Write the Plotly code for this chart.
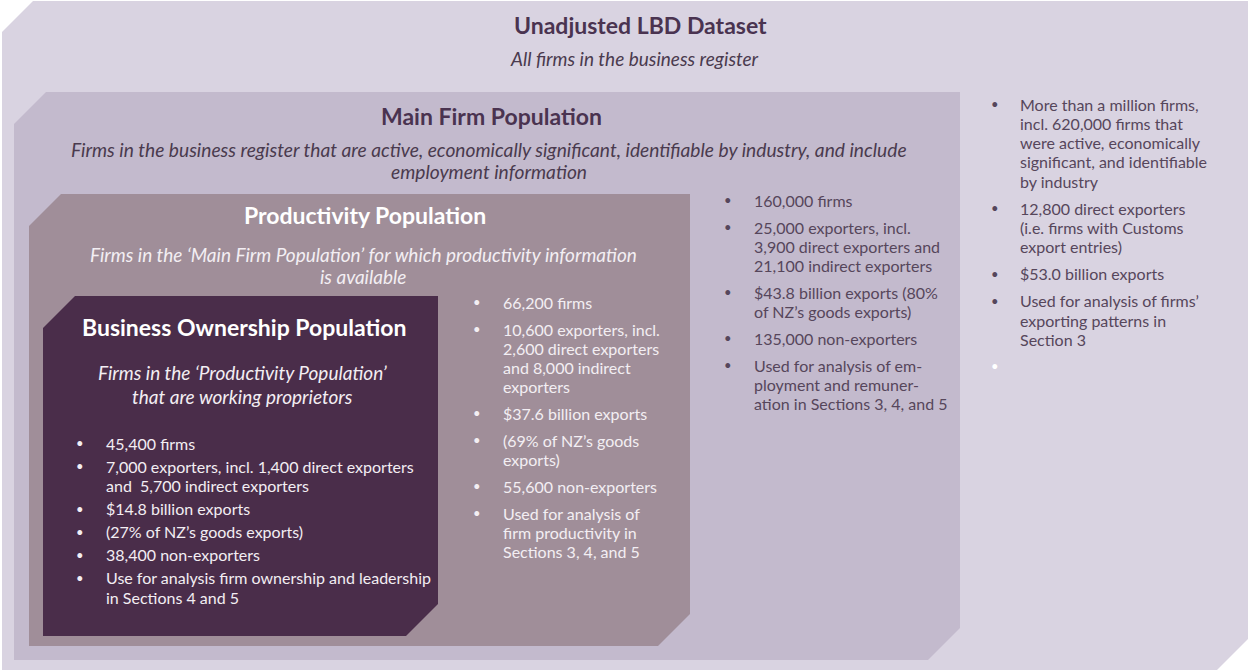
import plotly.graph_objects as go

# ---------------- data ----------------
level_titles = [
    "Unadjusted LBD Dataset",
    "Main Firm Population",
    "Productivity Population",
    "Business Ownership Population",
]
level_descriptions = [
    ["All firms in the business register"],
    ["Firms in the business register that are active, economically significant, identifiable by industry, and include",
     "employment information"],
    ["Firms in the ‘Main Firm Population’ for which productivity information",
     "is available"],
    ["Firms in the ‘Productivity Population’",
     "that are working proprietors"],
]
unadjusted_bullets = [
    ["More than a million firms,", "incl. 620,000 firms that", "were active, economically",
     "significant, and identifiable", "by industry"],
    ["12,800 direct exporters", "(i.e. firms with Customs", "export entries)"],
    ["$53.0 billion exports"],
    ["Used for analysis of firms’", "exporting patterns in", "Section 3"],
    [""],
]
main_bullets = [
    ["160,000 firms"],
    ["25,000 exporters, incl.", "3,900 direct exporters and", "21,100 indirect exporters"],
    ["$43.8 billion exports (80%", "of NZ’s goods exports)"],
    ["135,000 non-exporters"],
    ["Used for analysis of em-", "ployment and remuner-", "ation in Sections 3, 4, and 5"],
]
productivity_bullets = [
    ["66,200 firms"],
    ["10,600 exporters, incl.", "2,600 direct exporters", "and 8,000 indirect", "exporters"],
    ["$37.6 billion exports"],
    ["(69% of NZ’s goods", "exports)"],
    ["55,600 non-exporters"],
    ["Used for analysis of", "firm productivity in", "Sections 3, 4, and 5"],
]
ownership_bullets = [
    ["45,400 firms"],
    ["7,000 exporters, incl. 1,400 direct exporters", "and  5,700 indirect exporters"],
    ["$14.8 billion exports"],
    ["(27% of NZ’s goods exports)"],
    ["38,400 non-exporters"],
    ["Use for analysis firm ownership and leadership", "in Sections 4 and 5"],
]
level_bullets = [unadjusted_bullets, main_bullets, productivity_bullets, ownership_bullets]

# ---------------- layout / style ----------------
W, H = 1248, 671
FONT = "Lato"
box_geom = [  # x0, y0, x1, y1, chamfer
    (2, 1, 1248, 670, 31),
    (14, 92, 960, 660, 32),
    (29, 194, 690, 646, 32),
    (43, 296, 438, 636, 32),
]
box_fill = ["#D9D3E1", "#C3BACD", "#A08E99", "#4A2D4A"]
title_color = ["#4A3350", "#4A3350", "#FFFFFF", "#FFFFFF"]
desc_color = ["#4A3A4E", "#4A3A4E", "#F3EEF3", "#F3EEF3"]
bullet_color = ["#56465B", "#56465B", "#F3EEF3", "#F3EEF3"]
title_pos = [(640, 25), (491, 116), (365, 215), (244, 327)]
title_size = [23, 23, 23, 23]
desc_pos = [(634, 58), (489, 149), (363, 254), (242, 372)]
desc_step = [22, 22, 22, 24]
desc_size = [19, 19.2, 19, 19]
bullet_layout = [  # dot x, text x, first y, line step, item gap
    (995, 1018, 104, 19.3, 27),
    (728, 752, 200, 19, 27),
    (477, 501, 302, 19, 27),
    (80, 104, 443, 19.5, 23),
]
BULLET_SIZE = 16


def chamfer_path(x0, y0, x1, y1, c):
    return (f"M {x0+c},{y0} L {x1},{y0} L {x1},{y1-c} L {x1-c},{y1} "
            f"L {x0},{y1} L {x0},{y0+c} Z")


fig = go.Figure()
shapes = []
for (x0, y0, x1, y1, c), col in zip(box_geom, box_fill):
    shapes.append(dict(type="path", path=chamfer_path(x0, y0, x1, y1, c),
                       xref="x", yref="y", fillcolor=col, line=dict(width=0),
                       layer="below"))

ann = []
for i in range(4):
    tx, ty = title_pos[i]
    ann.append(dict(x=tx, y=ty, text=f"<b>{level_titles[i]}</b>", xanchor="center",
                    yanchor="middle", showarrow=False,
                    font=dict(family=FONT, size=title_size[i], color=title_color[i])))
    dx, dy = desc_pos[i]
    for k, line in enumerate(level_descriptions[i]):
        ann.append(dict(x=dx, y=dy + k * desc_step[i], text=f"<i>{line}</i>",
                        xanchor="center", yanchor="middle", showarrow=False,
                        font=dict(family=FONT, size=desc_size[i], color=desc_color[i])))
    bx, txx, by, step, gap = bullet_layout[i]
    y = by
    for item in level_bullets[i]:
        dot_col = bullet_color[i] if item[0] else "#FFFFFF"
        ann.append(dict(x=bx, y=y, text="•", xanchor="center", yanchor="middle",
                        showarrow=False,
                        font=dict(family=FONT, size=13, color=dot_col)))
        for k, line in enumerate(item):
            if line:
                ann.append(dict(x=txx, y=y + k * step, text=line, xanchor="left",
                                yanchor="middle", showarrow=False,
                                font=dict(family=FONT, size=BULLET_SIZE,
                                          color=bullet_color[i])))
        y += (len(item) - 1) * step + gap

for a in ann:
    a["xref"] = "x"
    a["yref"] = "y"

fig.update_layout(
    width=W, height=H, margin=dict(l=0, r=0, t=0, b=0),
    paper_bgcolor="white", plot_bgcolor="white",
    xaxis=dict(range=[0, W], visible=False, fixedrange=True),
    yaxis=dict(range=[H, 0], visible=False, fixedrange=True),
    shapes=shapes, annotations=ann, showlegend=False,
)
fig.write_html(
    "out.html",
    config={"displayModeBar": False},
    post_script="document.body.style.margin='0px';document.body.style.overflow='hidden';",
)
